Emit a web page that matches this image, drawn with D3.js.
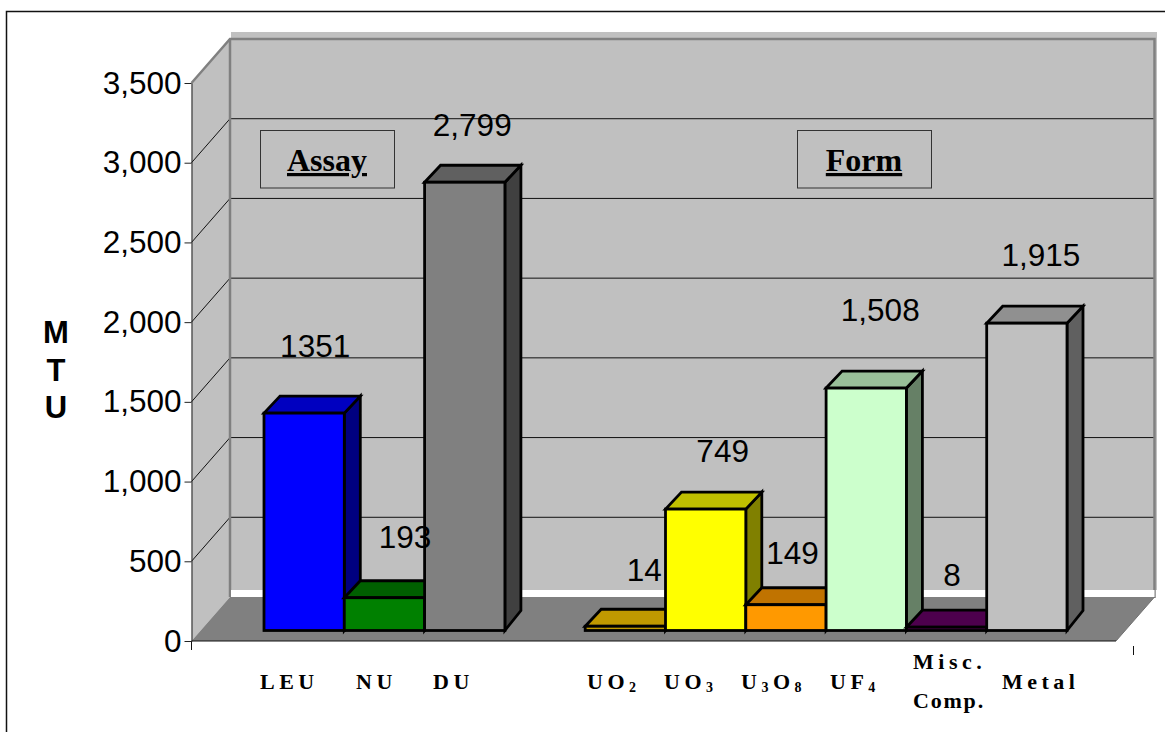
<!DOCTYPE html>
<html>
<head>
<meta charset="utf-8">
<script src="https://cdn.jsdelivr.net/npm/d3@7"></script>
<style>
  html, body { margin: 0; padding: 0; background: #fff; }
  svg { display: block; }
</style>
</head>
<body>
<div id="chart"></div>
<script>
// categories, the empty one is the gap between the two groups
const categories = ["LEU", "NU", "DU", "", "UO2", "UO3", "U3O8", "UF4", "Misc", "Metal"];
const values = [1351, 193, 2799, null, 14, 749, 149, 1508, 8, 1915];
const valueLabels = ["1351", "193", "2,799", "", "14", "749", "149", "1,508", "8", "1,915"];
const yTicks = [0, 500, 1000, 1500, 2000, 2500, 3000, 3500];
const frontColors = ["#0000ff", "#008000", "#808080", "", "#c09900", "#ffff00", "#ff9900", "#ccffcc", "#660066", "#c0c0c0"];
const topColors = ["#0000c0", "#006000", "#606060", "", "#c09900", "#c0c000", "#c07300", "#99c099", "#4d004d", "#909090"];
const sideColors = ["#000080", "#004000", "#404040", "", "#806600", "#808000", "#804d00", "#668066", "#330033", "#606060"];
// label nudges, the labels don't sit on the bar centers in the original
const valueDx = [11, 20.5, 7.5, 0, 19, 17, 6.5, 14, 5.5, 14];
const valueDy = [-56, -50, -46, 0, -45, -47, -41, -67, -41, -57];
const catLeft = [260, 356, 433, 0, 587, 664, 741, 830, 913, 1002];

const width = 1165, height = 732;
const depthX = 38.5, depthY = -44; // wall offset
const barDepthX = 16, barDepthY = -17;

const svg = d3.select("#chart").append("svg")
  .attr("width", width).attr("height", height)
  .attr("font-family", "'Liberation Sans', Arial, sans-serif");

// set the ranges
const y = d3.scaleLinear().domain([0, 3500]).range([641, 83]);
const x = d3.scaleBand().domain(categories.map((c, i) => i)).range([264, 1067]);
const x0 = 191.5, x1 = 1116;
const baseInset = 12.5; // bars stand a little behind the front of the floor
const barY = v => y(v) - baseInset;
const barBottom = 630.5;
const pts = a => a.map(p => p.join(",")).join(" ");

// outer frame, runs off the right and bottom of the picture
svg.append("rect").attr("x", 6.5).attr("y", 11.5).attr("width", 1300).attr("height", 900)
  .attr("fill", "#fff").attr("stroke", "#111").attr("stroke-width", 1.5);

// back wall
svg.append("rect").attr("x", x0 + depthX + 1).attr("y", 32).attr("width", x1 - x0 + 1.5).attr("height", 558)
  .attr("fill", "#c0c0c0");
// side wall
svg.append("polygon")
  .attr("points", pts([[x0, y(3500)], [x0 + depthX, y(3500) + depthY], [x0 + depthX, y(0) + depthY], [x0, y(0)]]))
  .attr("fill", "#c0c0c0");
// floor
svg.append("polygon")
  .attr("points", pts([[x0, y(0)], [x0 + depthX, y(0) + depthY], [x1 + depthX, y(0) + depthY], [x1, y(0)]]))
  .attr("fill", "#808080");

// grid lines
const grid = yTicks.filter(t => t > 0 && t < 3500);
svg.append("g").selectAll("line.back").data(grid).join("line")
  .attr("x1", x0 + depthX).attr("x2", x1 + depthX)
  .attr("y1", d => y(d) + depthY).attr("y2", d => y(d) + depthY)
  .attr("stroke", "#111").attr("stroke-width", 1);
svg.append("g").selectAll("line.side").data(grid).join("line")
  .attr("x1", x0).attr("x2", x0 + depthX)
  .attr("y1", d => y(d)).attr("y2", d => y(d) + depthY)
  .attr("stroke", "#111").attr("stroke-width", 1);

// gray wall border
svg.append("path")
  .attr("d", `M${x0},${y(3500)}L${x0 + depthX},${y(3500) + depthY}L${x1 + depthX},${y(3500) + depthY}L${x1 + depthX},${y(0) + depthY + 1}`)
  .attr("fill", "none").attr("stroke", "#808080").attr("stroke-width", 2.5);
svg.append("line").attr("x1", x0 + depthX).attr("x2", x0 + depthX)
  .attr("y1", y(3500) + depthY).attr("y2", y(0) + depthY)
  .attr("stroke", "#808080").attr("stroke-width", 2.5);
// white strip under the wall
svg.append("rect").attr("x", x0 + depthX + 1).attr("y", 590).attr("width", x1 - x0 - 1).attr("height", 7).attr("fill", "#fff");
// floor right edge
svg.append("line").attr("x1", x1).attr("y1", y(0)).attr("x2", x1 + depthX).attr("y2", y(0) + depthY)
  .attr("stroke", "#707070").attr("stroke-width", 1);

// the bars, left to right so the next front covers the previous side
const bars = svg.append("g").attr("stroke", "#000").attr("stroke-width", 2.8).attr("stroke-linejoin", "miter");
categories.forEach((c, i) => {
  if (values[i] === null) return;
  const l = x(i), r = l + x.bandwidth(), t = barY(values[i]), b = barBottom;
  bars.append("polygon").attr("fill", sideColors[i])
    .attr("points", pts([[r, t], [r + barDepthX, t + barDepthY], [r + barDepthX, b + barDepthY - 3], [r, b]]));
  bars.append("polygon").attr("fill", topColors[i])
    .attr("points", pts([[l, t], [l + barDepthX, t + barDepthY], [r + barDepthX, t + barDepthY], [r, t]]));
  bars.append("rect").attr("fill", frontColors[i])
    .attr("x", l).attr("y", t).attr("width", x.bandwidth()).attr("height", b - t);
});

// front edge of floor
svg.append("line").attr("x1", x0).attr("x2", x1).attr("y1", y(0)).attr("y2", y(0))
  .attr("stroke", "#111").attr("stroke-width", 1.2);
svg.append("line").attr("x1", x0).attr("x2", x0).attr("y1", y(0)).attr("y2", 650)
  .attr("stroke", "#111").attr("stroke-width", 1);
svg.append("line").attr("x1", 1133.5).attr("x2", 1133.5).attr("y1", 646).attr("y2", 655)
  .attr("stroke", "#111").attr("stroke-width", 1);

// y axis
const yAxis = svg.append("g").attr("transform", `translate(${x0},0)`)
  .call(d3.axisLeft(y).tickValues(yTicks).tickFormat(d3.format(",")).tickSize(7).tickSizeOuter(0).tickPadding(3));
yAxis.selectAll("text").attr("font-size", 31.5).attr("fill", "#000")
  .attr("font-family", "'Liberation Sans', Arial, sans-serif");
yAxis.selectAll("line, path").attr("stroke", "#222");

// value labels
svg.append("g").selectAll("text").data(categories.map((c, i) => i).filter(i => values[i] !== null)).join("text")
  .attr("x", i => x(i) + x.bandwidth() / 2 + valueDx[i])
  .attr("y", i => barY(values[i]) + valueDy[i])
  .attr("text-anchor", "middle").attr("font-size", 31.5).attr("fill", "#000")
  .text(i => valueLabels[i]);

// axis title
svg.append("g").selectAll("text").data(["M", "T", "U"]).join("text")
  .attr("x", 56).attr("y", (d, i) => 343 + i * 37.5)
  .attr("text-anchor", "middle").attr("font-size", 31).attr("font-weight", "bold").attr("fill", "#000")
  .text(d => d);

// group boxes
[["Assay", 260.5], ["Form", 797.5]].forEach(([name, bx]) => {
  svg.append("rect").attr("x", bx).attr("y", 130.5).attr("width", 134).attr("height", 57.5)
    .attr("fill", "#c0c0c0").attr("stroke", "#333").attr("stroke-width", 1);
  svg.append("text").attr("x", bx + 66.5).attr("y", 171)
    .attr("text-anchor", "middle").attr("font-family", "'Liberation Serif', serif")
    .attr("font-weight", "bold").attr("font-size", 32).attr("fill", "#000")
    .attr("text-decoration", "underline").text(name);
});

// category labels, spaced out serif with subscripts
const catParts = {
  LEU: [["LEU", 0]], NU: [["NU", 0]], DU: [["DU", 0]],
  UO2: [["UO", 0], ["2", 1]], UO3: [["UO", 0], ["3", 1]],
  U3O8: [["U", 0], ["3", 1], ["O", 0], ["8", 1]], UF4: [["UF", 0], ["4", 1]],
  Metal: [["Metal", 0]]
};
const catG = svg.append("g").attr("font-family", "'Liberation Serif', serif")
  .attr("font-weight", "bold").attr("fill", "#000").attr("font-size", 22)
  .style("letter-spacing", "4.5px");
categories.forEach((c, i) => {
  if (!catParts[c]) return;
  const t = catG.append("text").attr("x", catLeft[i]).attr("y", 689);
  catParts[c].forEach(([s, sub]) => {
    t.append("tspan").attr("font-size", sub ? 14 : null).attr("baseline-shift", sub ? "-3" : null).text(s);
  });
});
[["Misc.", 4.5], ["Comp.", 1.8]].forEach(([s, sp], i) => {
  catG.append("text").attr("x", catLeft[8]).attr("y", 669 + i * 39)
    .style("letter-spacing", sp + "px").text(s);
});
</script>
</body>
</html>
